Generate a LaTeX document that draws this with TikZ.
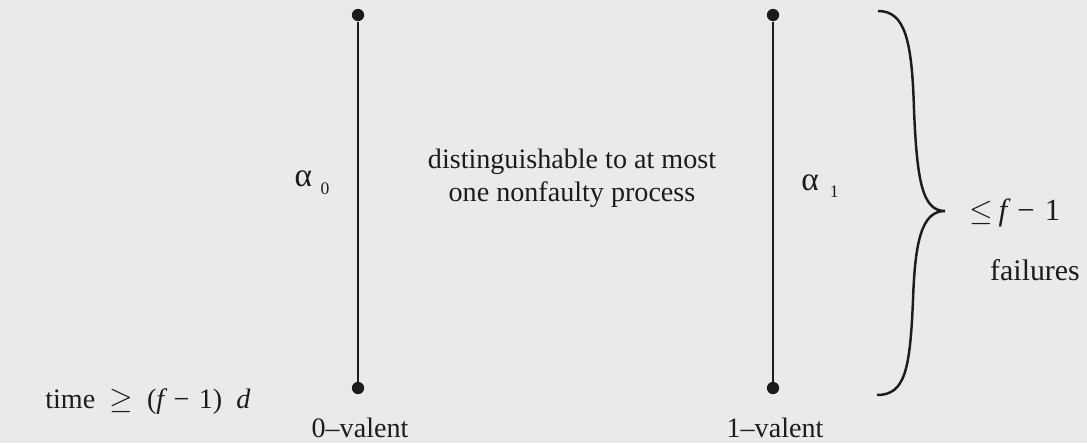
\documentclass[tikz,border=0pt]{standalone}
\usepackage{fontspec}
\setmainfont{Liberation Serif}
\usepackage{tikz}
\definecolor{bggray}{RGB}{234,234,234}
\definecolor{inkdark}{RGB}{30,26,34}

\begin{document}
\begin{tikzpicture}[x=0.02cm, y=-0.02cm,
    dot/.style={circle, fill=inkdark, inner sep=0pt, minimum size=7pt},
    run/.style={draw=inkdark, line width=1.6pt},
    lbl/.style={inner sep=0pt, text=inkdark, font=\fontsize{16}{19}\selectfont},
    brace/.style={draw=inkdark, line width=1.4pt}
]
%% background and page size
\fill[bggray] (0,0) rectangle (1087,443);
\useasboundingbox (0,0) rectangle (1087,443);
%% ============================================================
%% the two executions alpha_0 and alpha_1
%% ============================================================
\node[dot] (a0top) at (358,15)  {};
\node[dot] (a0bot) at (358,388) {};
\node[dot] (a1top) at (773,15)  {};
\node[dot] (a1bot) at (773,388) {};
\draw[run] (a0top) -- (a0bot);
\draw[run] (a1top) -- (a1bot);
\node[lbl] (alpha0) at (312,183) {{\fontsize{19}{20}\selectfont α}\hspace{0.3em}\raisebox{-0.6ex}{\fontsize{10}{11}\selectfont 0}};
\node[lbl] (alpha1) at (820,186) {{\fontsize{19}{20}\selectfont α}\hspace{0.4em}\raisebox{-0.6ex}{\fontsize{10}{11}\selectfont 1}};
\node[lbl, align=center] (dist) at (572,178) {distinguishable to at most\\one nonfaulty process};
%% valence labels
\node[lbl] (val0) at (360,428) {0--valent};
\node[lbl] (val1) at (775,428) {1--valent};
%% time bound
\node[lbl, anchor=west] (time) at (45,402) {time\ \ $\geq$\ \ ({\itshape f}\,\,−\,\,1)\ \ {\itshape d}};
%% ============================================================
%% brace with failure bound
%% ============================================================
\draw[brace] (878,11) .. controls (905,11) and (912,40) .. (914,110)
    .. controls (917,180) and (922,211) .. (945,211)
    .. controls (922,211) and (915,240) .. (913,300)
    .. controls (910,370) and (905,395) .. (877,395);
\node[lbl, font=\fontsize{17.5}{20}\selectfont] (bound) at (1015,213) {$\leq$\,{\itshape f}\,\,−\,\,1};
\node[lbl, font=\fontsize{17}{20}\selectfont] (fail) at (1035,270) {failures};
\end{tikzpicture}
\end{document}
